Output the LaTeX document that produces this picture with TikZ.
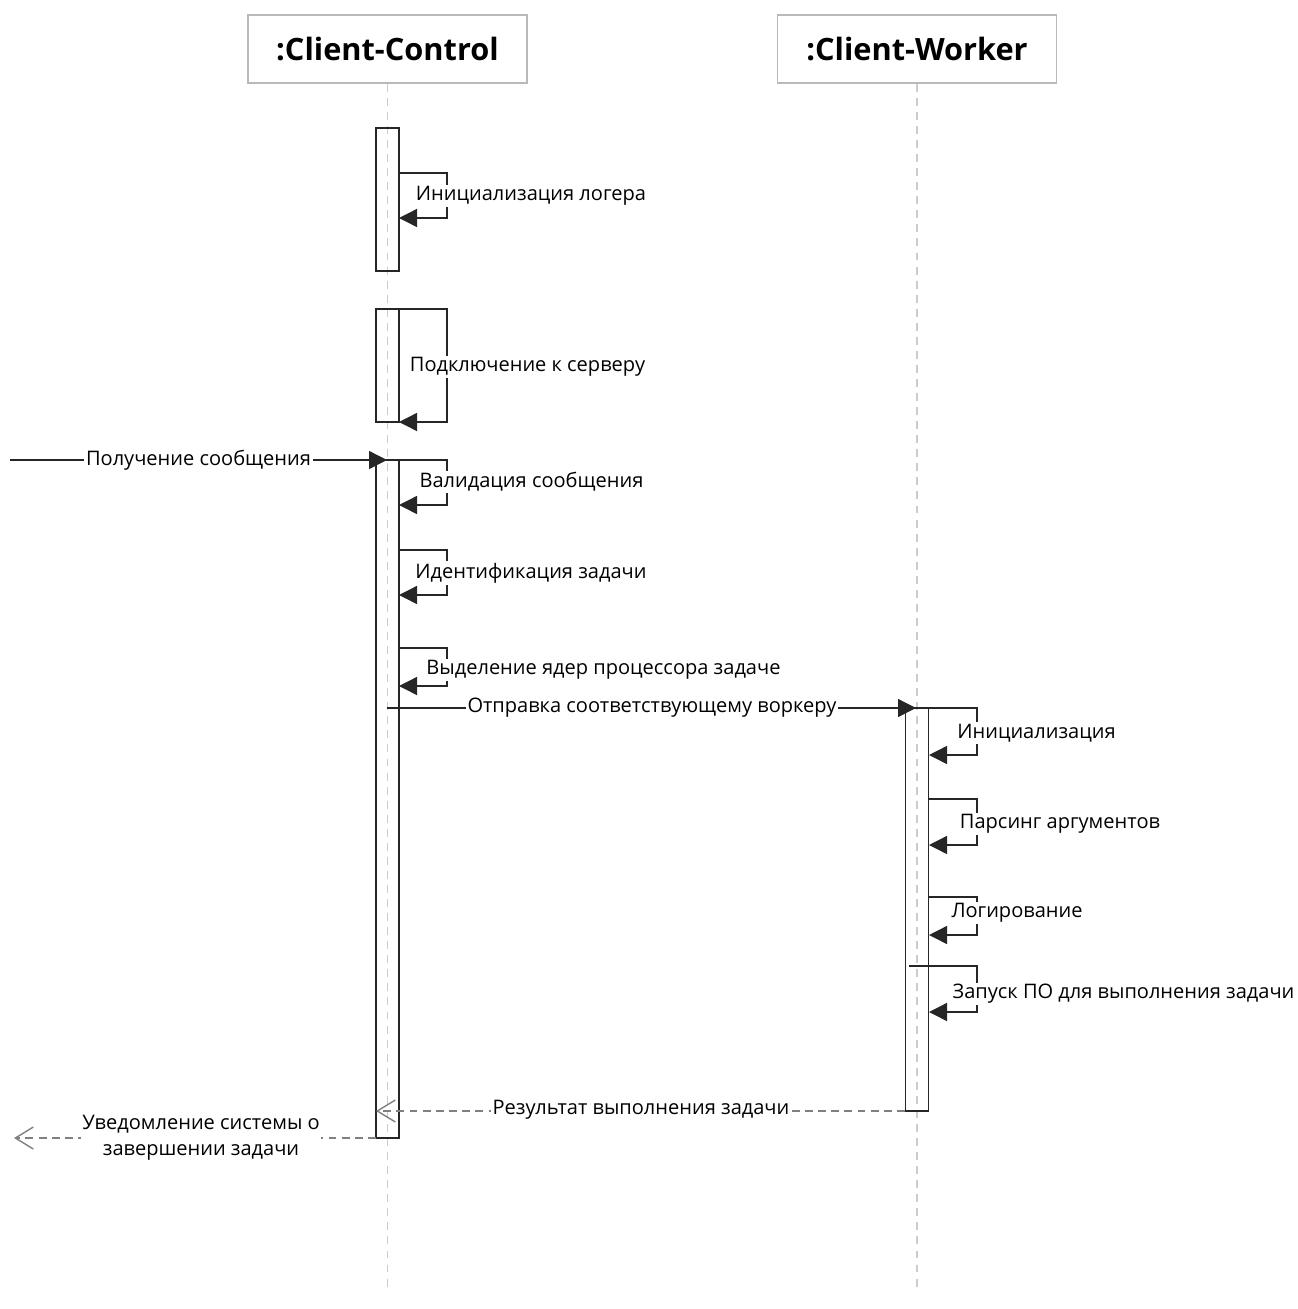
\documentclass[tikz,border=0pt]{standalone}
\usepackage{fontspec}
\setmainfont{Open Sans}
\usetikzlibrary{arrows.meta}

\begin{document}
\begin{tikzpicture}[
        x=0.02cm, y=-0.02cm,
        >={Triangle[length=0.36cm,width=0.36cm]},
        every node/.style={font=\fontsize{11.4}{15}\selectfont},
        head/.style={draw=gray!55, line width=1pt, minimum width=5.58cm, minimum height=1.36cm, font=\fontsize{17.5}{20}\selectfont\bfseries},
        lifeline/.style={draw=gray!40, line width=0.8pt, dash pattern=on 4.5pt off 3.5pt},
        bar/.style={draw=black!85, line width=0.8pt, minimum width=0.46cm, inner sep=0pt},
        msg/.style={draw=black!85, line width=0.8pt},
        reply/.style={draw=gray, line width=0.8pt, dash pattern=on 4.5pt off 3pt, -{Straight Barb[length=0.36cm,width=0.44cm]}},
        lbl/.style={fill=white, inner sep=1pt}
        ]
        \useasboundingbox (0,0) rectangle (1298,1309);

        % Lifeline heads
        \node[head] (control) at (387.5,49) {:Client-Control};
        \node[head] (worker)  at (917,49)   {:Client-Worker};
        \coordinate (controlEnd) at (387.5,1292);
        \coordinate (workerEnd)  at (917,1292);
        \draw[lifeline] (control) -- (controlEnd);
        \draw[lifeline] (worker)  -- (workerEnd);

        % Activation bars
        \node[bar, minimum height=2.86cm]  (logBar)    at (387.5,199.5) {};
        \node[bar, minimum height=2.26cm]  (connBar)   at (387.5,365.5) {};
        \node[bar, minimum height=13.56cm] (mainBar)   at (387.5,799)   {};
        \node[bar, minimum height=8.06cm]  (workerBar) at (917,909.5)   {};

        % Self messages
        \foreach \sx/\ty/\lx/\by/\ex [count=\i] in {
                399/173/447/218/399, 399/309/447/422/399, 399/460/447/505/399,
                399/550/447/595/399, 399/648/447/686/399, 929/708/977/755/929,
                929/799/977/845/929, 929/897/977/935/929, 909/966/977/1012/929}{
            \coordinate (self\i a) at (\sx,\ty);
            \coordinate (self\i c) at (\lx,\by);
            \coordinate (self\i b) at (\ex,\by);
            \draw[msg,->] (self\i a) -| (self\i c) -- (self\i b);
        }

        % Messages between lifelines
        \coordinate (outside)   at (10,460);
        \coordinate (recvTip)   at (387,460);
        \coordinate (sendStart) at (387,708);
        \coordinate (sendTip)   at (916,708);
        \coordinate (resStart)  at (905,1111);
        \coordinate (resTip)    at (376,1111);
        \coordinate (notStart)  at (376,1138);
        \coordinate (notTip)    at (14,1138);
        \draw[msg,->] (outside)   -- (recvTip);
        \draw[msg,->] (sendStart) -- (sendTip);
        \draw[reply]  (resStart)  -- (resTip);
        \draw[reply]  (notStart)  -- (notTip);

        % Labels
        \node[lbl] (lblLog)    at (531,196)    {Инициализация логера};
        \node[lbl] (lblConn)   at (527.5,367)  {Подключение к серверу};
        \node[lbl] (lblRecv)   at (198.5,460)  {Получение сообщения};
        \node[lbl] (lblValid)  at (531.5,482)  {Валидация сообщения};
        \node[lbl] (lblIdent)  at (531,573)    {Идентификация задачи};
        \node[lbl] (lblCores)  at (603.5,670)  {Выделение ядер процессора задаче};
        \node[lbl] (lblSend)   at (652,708)    {Отправка соответствующему воркеру};
        \node[lbl] (lblInit)   at (1036.5,733) {Инициализация};
        \node[lbl] (lblParse)  at (1060,824)   {Парсинг аргументов};
        \node[lbl] (lblLogging) at (1017,913)  {Логирование};
        \node[lbl] (lblRun)    at (1123.5,994) {Запуск ПО для выполнения задачи};
        \node[lbl] (lblResult) at (641,1110)   {Результат выполнения задачи};
        \node[lbl, align=center] (lblNotify) at (201,1138) {Уведомление системы о\\завершении задачи};
      \end{tikzpicture}
\end{document}
